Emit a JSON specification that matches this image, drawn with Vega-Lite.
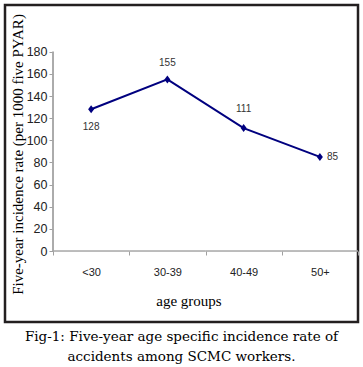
{
  "$schema": "https://vega.github.io/schema/vega-lite/v6.json",
  "width": 353,
  "height": 317,
  "autosize": {"type": "none"},
  "padding": {"left": 5, "top": 5, "right": 5, "bottom": 45},
  "background": "#ffffff",
  "config": {
    "view": {"stroke": "#231f20", "strokeWidth": 2.5},
    "font": "Liberation Sans",
    "axis": {"grid": false}
  },
  "title": {
    "text": ["Fig-1: Five-year age specific incidence rate of", "accidents among SCMC workers."],
    "orient": "bottom",
    "anchor": "middle",
    "font": "DejaVu Serif",
    "fontSize": 13.5,
    "fontWeight": "normal",
    "color": "#000000",
    "lineHeight": 19.5,
    "offset": 8
  },
  "data": {
    "values": [
      {"age": "<30", "rate": 128},
      {"age": "30-39", "rate": 155},
      {"age": "40-49", "rate": 111},
      {"age": "50+", "rate": 85}
    ]
  },
  "encoding": {
    "x": {
      "field": "age",
      "type": "nominal",
      "sort": ["<30", "30-39", "40-49", "50+"],
      "bandPosition": 0.5,
      "scale": {
        "type": "band",
        "domain": ["<30", "30-39", "40-49", "50+"],
        "paddingInner": 0,
        "paddingOuter": 0.3148,
        "align": 1
      },
      "axis": {
        "title": "age groups",
        "domain": false,
        "labelAngle": 0,
        "tickBand": "extent",
        "tickSize": 4,
        "tickColor": "#a0a0a0",
        "offset": -71,
        "labelFont": "Liberation Sans Narrow, Arial Narrow, Liberation Sans",
        "labelFontSize": 11,
        "labelColor": "#222222",
        "labelPadding": 11,
        "titleFont": "Liberation Serif",
        "titleFontSize": 15,
        "titleFontWeight": "normal",
        "titleColor": "#000000",
        "titleX": 183.5,
        "titleY": 54,
        "titleBaseline": "alphabetic",
        "titleAnchor": "middle",
        "titleAlign": "center"
      }
    },
    "y": {
      "field": "rate",
      "type": "quantitative",
      "scale": {"domain": [-64.1, 222.2], "nice": false, "zero": false},
      "axis": {
        "title": "Five-year incidence rate (per 1000 five PYAR)",
        "domain": false,
        "values": [0, 20, 40, 60, 80, 100, 120, 140, 160, 180],
        "tickSize": 4,
        "tickColor": "#a0a0a0",
        "offset": -48,
        "labelFont": "Liberation Sans",
        "labelFontSize": 12.5,
        "labelColor": "#222222",
        "labelPadding": 2,
        "titleFont": "Liberation Serif",
        "titleFontSize": 15,
        "titleFontWeight": "normal",
        "titleColor": "#000000",
        "titleX": -36,
        "titleY": 149,
        "titleBaseline": "middle",
        "titleAngle": -90,
        "titleAlign": "center"
      }
    }
  },
  "layer": [
    {
      "mark": {"type": "bar", "fill": "transparent", "stroke": "#a6a6a6", "strokeWidth": 1},
      "encoding": {
        "y": {"datum": 0, "type": "quantitative"},
        "y2": {"datum": 0}
      }
    },
    {
      "mark": {"type": "rule", "color": "#a6a6a6", "strokeWidth": 1},
      "encoding": {
        "x": {"datum": "<30", "type": "nominal", "bandPosition": 0},
        "y": {"datum": 0, "type": "quantitative"},
        "y2": {"datum": 180}
      }
    },
    {
      "mark": {"type": "line", "color": "#00007f", "strokeWidth": 2}
    },
    {
      "mark": {"type": "point", "shape": "M0,-1L0.75,0L0,1L-0.75,0Z", "filled": true, "opacity": 1, "color": "#00007f", "size": 64}
    },
    {
      "transform": [{"filter": "datum.age === '<30'"}],
      "mark": {"type": "text", "dy": 18, "font": "Liberation Sans Narrow, Arial Narrow, Liberation Sans", "fontSize": 10, "color": "#333333"},
      "encoding": {"text": {"field": "rate", "type": "quantitative"}}
    },
    {
      "transform": [{"filter": "datum.age === '30-39'"}],
      "mark": {"type": "text", "dy": -16, "font": "Liberation Sans Narrow, Arial Narrow, Liberation Sans", "fontSize": 10, "color": "#333333"},
      "encoding": {"text": {"field": "rate", "type": "quantitative"}}
    },
    {
      "transform": [{"filter": "datum.age === '40-49'"}],
      "mark": {"type": "text", "dy": -19, "font": "Liberation Sans Narrow, Arial Narrow, Liberation Sans", "fontSize": 10, "color": "#333333"},
      "encoding": {"text": {"field": "rate", "type": "quantitative"}}
    },
    {
      "transform": [{"filter": "datum.age === '50+'"}],
      "mark": {"type": "text", "dx": 7, "align": "left", "font": "Liberation Sans Narrow, Arial Narrow, Liberation Sans", "fontSize": 10, "color": "#333333"},
      "encoding": {"text": {"field": "rate", "type": "quantitative"}}
    }
  ]
}
